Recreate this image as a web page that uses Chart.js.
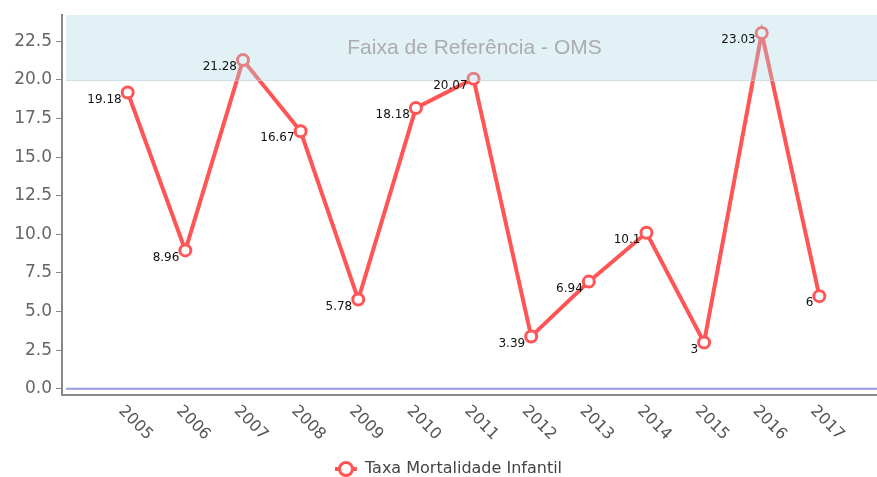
<!DOCTYPE html>
<html>
<head>
<meta charset="utf-8">
<script src="https://cdn.jsdelivr.net/npm/chart.js@4"></script>
<style>
  body { margin: 0; background: #fff; }
  #wrap { width: 877px; height: 477px; }
</style>
</head>
<body>
<div id="wrap"><canvas id="mortChart" width="877" height="477"></canvas></div>
<script>
// data
const years = [2005, 2006, 2007, 2008, 2009, 2010, 2011, 2012, 2013, 2014, 2015, 2016, 2017];
const taxaValues = [19.18, 8.96, 21.28, 16.67, 5.78, 18.18, 20.07, 3.39, 6.94, 10.1, 3, 23.03, 6];
const seriesLabel = 'Taxa Mortalidade Infantil';
const bandLabel = 'Faixa de Referência - OMS';
const bandFrom = 20;

const FONT = '"DejaVu Sans", Verdana, sans-serif';
const RED = 'rgb(255, 85, 85)';

// reference band, zero line, rotated year labels, point labels
const extrasPlugin = {
    id: 'extras',
    afterLayout(chart) {
        // nudge the legend to where the original sits
        const lg = chart.legend;
        lg.left += 14; lg.right += 14;
        lg.top += 10; lg.bottom += 10;
    },
    afterDatasetsDraw(chart) {
        const ctx = chart.ctx;
        const area = chart.chartArea;
        const y = chart.scales.y;
        const x = chart.scales.x;

        // zero line
        const y0 = y.getPixelForValue(0);
        ctx.save();
        ctx.strokeStyle = '#9a9ae6';
        ctx.lineWidth = 2;
        ctx.beginPath();
        ctx.moveTo(area.left + 4, y0);
        ctx.lineTo(area.right, y0);
        ctx.stroke();

        // band over the line (semi transparent)
        const yb = y.getPixelForValue(bandFrom);
        ctx.fillStyle = 'rgba(173, 216, 230, 0.35)';
        ctx.fillRect(area.left + 4, area.top, area.right - area.left - 4, yb - area.top);
        ctx.strokeStyle = 'rgba(190, 210, 215, 0.8)';
        ctx.lineWidth = 1;
        ctx.beginPath();
        ctx.moveTo(area.left + 4, yb + 0.5);
        ctx.lineTo(area.right, yb + 0.5);
        ctx.stroke();
        ctx.fillStyle = '#acacac';
        ctx.font = '21px "Liberation Sans", Arial, sans-serif';
        ctx.textAlign = 'center';
        ctx.textBaseline = 'middle';
        ctx.fillText(bandLabel, (area.left + area.right) / 2 + 5, (area.top + yb) / 2 + 1);

        // point labels
        const meta = chart.getDatasetMeta(0);
        ctx.fillStyle = '#111';
        ctx.font = '12px ' + FONT;
        ctx.textAlign = 'right';
        meta.data.forEach((pt, i) => {
            ctx.fillText(String(taxaValues[i]), pt.x - 6, pt.y + 7);
        });

        // x labels, rotated down to the right
        ctx.fillStyle = '#555';
        ctx.font = '16px ' + FONT;
        ctx.textAlign = 'left';
        ctx.textBaseline = 'top';
        years.forEach(yr => {
            const px = x.getPixelForValue(yr);
            ctx.save();
            ctx.translate(px - 1, area.bottom + 8);
            ctx.rotate(Math.PI / 4);
            ctx.fillText(String(yr), 0, 0);
            ctx.restore();
        });
        ctx.restore();
    },
    afterDraw(chart) {
        // legend marker: circle with a line through it
        const box = chart.legend.legendHitBoxes[0];
        if (!box) return;
        const ctx = chart.ctx;
        const cx = box.left + 3;
        const cy = box.top + box.height / 2;
        ctx.save();
        ctx.strokeStyle = RED;
        ctx.lineWidth = 4;
        ctx.beginPath();
        ctx.moveTo(cx - 11, cy);
        ctx.lineTo(cx + 11, cy);
        ctx.stroke();
        ctx.beginPath();
        ctx.arc(cx, cy, 6.5, 0, Math.PI * 2);
        ctx.fillStyle = '#fff';
        ctx.fill();
        ctx.lineWidth = 3;
        ctx.stroke();
        ctx.restore();
    }
};

function renderChart() {
    const ctx = document.getElementById('mortChart').getContext('2d');
    new Chart(ctx, {
        type: 'line',
        data: {
            datasets: [{
                label: seriesLabel,
                data: years.map((yr, i) => ({ x: yr, y: taxaValues[i] })),
                borderColor: RED,
                backgroundColor: '#fff',
                borderWidth: 4,
                pointRadius: 5.5,
                pointBorderWidth: 3,
                pointBackgroundColor: '#fff',
                pointBorderColor: RED,
                tension: 0
            }]
        },
        options: {
            responsive: false,
            animation: false,
            layout: { autoPadding: false, padding: { top: 15, right: 0, left: 0, bottom: 0 } },
            plugins: {
                legend: {
                    position: 'bottom',
                    labels: {
                        usePointStyle: true,
                        pointStyle: 'circle',
                        boxWidth: 14,
                        padding: 10,
                        color: '#444',
                        font: { family: FONT, size: 16 },
                        generateLabels: function(chart) {
                            const items = Chart.defaults.plugins.legend.labels.generateLabels(chart);
                            items.forEach(it => {
                                it.fillStyle = 'rgba(0,0,0,0)';
                                it.strokeStyle = 'rgba(0,0,0,0)';
                                it.lineWidth = 0;
                            });
                            return items;
                        }
                    }
                },
                tooltip: { enabled: false }
            },
            scales: {
                x: {
                    type: 'linear',
                    min: 2003.86,
                    max: 2018,
                    grid: { display: false, drawTicks: false },
                    border: { color: '#888', width: 2 },
                    ticks: { display: false },
                    afterFit: function(scale) { scale.height = 46; }
                },
                y: {
                    min: -0.4,
                    max: 24.2,
                    grid: { drawOnChartArea: false, tickLength: 6, color: '#888' },
                    border: { color: '#888', width: 2 },
                    ticks: {
                        stepSize: 2.5,
                        includeBounds: false,
                        color: '#666',
                        padding: 4,
                        font: { family: FONT, size: 17 },
                        callback: v => v.toFixed(1)
                    },
                    afterFit: function(scale) { scale.width = 62; }
                }
            }
        },
        plugins: [extrasPlugin]
    });
}

document.addEventListener('DOMContentLoaded', renderChart);
</script>
</body>
</html>
